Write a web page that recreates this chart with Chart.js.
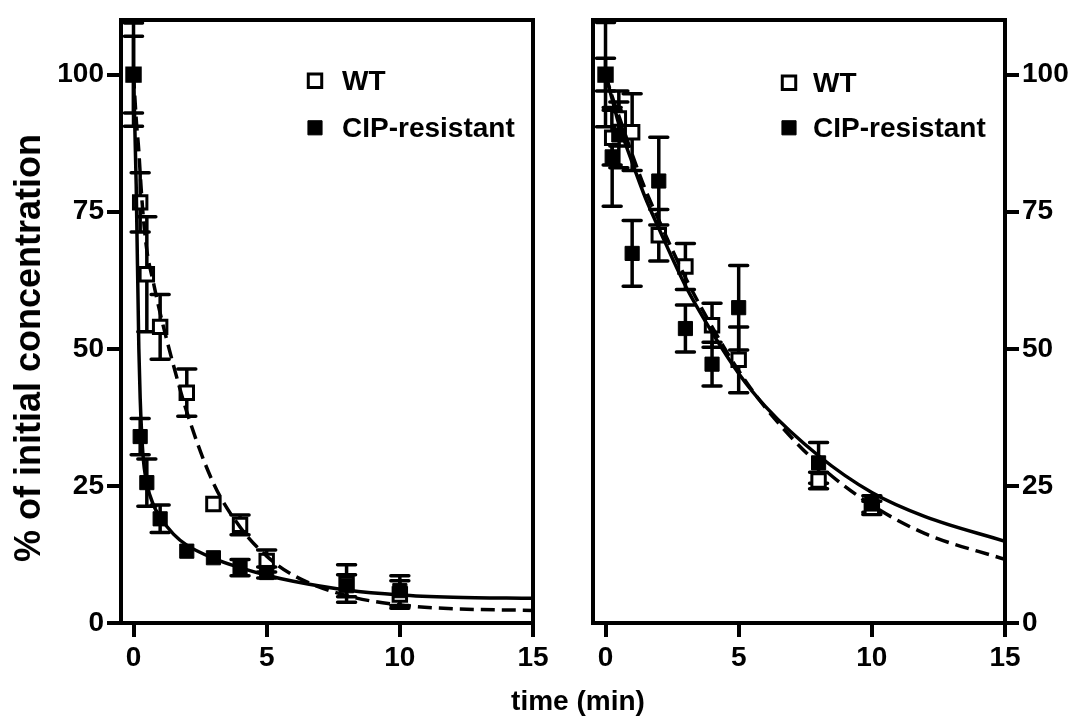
<!DOCTYPE html>
<html>
<head>
<meta charset="utf-8">
<script src="https://cdn.jsdelivr.net/npm/chart.js@4.4.1/dist/chart.umd.min.js"></script>
<style>
  html, body { margin: 0; padding: 0; background: #fff; }
  #wrap { position: relative; width: 1073px; height: 721px; overflow: hidden; }
  #leftPanel { position: absolute; left: 0; top: 0; }
  #rightPanel { position: absolute; left: 563px; top: 0; }
  #xTitle {
    position: absolute; left: 0; width: 1156px; top: 685px; line-height: 32px;
    text-align: center; font: bold 28px "Liberation Sans", Arial, sans-serif; color: #000;
  }
  #yTitle {
    position: absolute; left: 28px; top: 348px; white-space: nowrap; line-height: 40px;
    transform: translate(-50%, -50%) rotate(-90deg);
    font: bold 36px "Liberation Sans", Arial, sans-serif; color: #000;
  }
</style>
</head>
<body>
<div id="wrap">
  <canvas id="leftPanel" width="563" height="721"></canvas>
  <canvas id="rightPanel" width="510" height="721"></canvas>
  <div id="xTitle">time (min)</div>
  <div id="yTitle">% of initial concentration</div>
</div>
<script>
// --- data ---
const sampleTimes = [0, 0.25, 0.5, 1, 2, 3, 4, 5, 8, 10];

// left panel
const leftWT       = [100, 76.7, 63.6, 54, 42, 21.7, 17.9, 11.3, 7.2, 5.2];
const leftWTErr    = [9.4, 5.4, 10.5, 5.9, 4.3, 0, 1.8, 2, 3.4, 2.5];
const leftCIP      = [100, 34, 25.6, 19, 13.1, 11.9, 10.1, 9.2, 6.8, 5.9];
const leftCIPErr   = [7, 3.3, 4.3, 2.5, 0, 0, 1.5, 1, 2, 2.7];

// right panel
const rightWT      = [100, 88.5, 92, 89.5, 70.7, 65, 54.3, 48, 26, 21];
const rightWTErr   = [9.5, 5, 5, 7, 4.7, 4.2, 4, 6, 1.5, 1.2];
const rightCIP     = [100, 85, 89, 67.4, 80.6, 53.7, 47.2, 57.5, 29.2, 21.7];
const rightCIPErr  = [3, 9, 6, 6, 8, 4.3, 4, 7.7, 3.7, 1.5];

// fitted curves (traced)
const leftFitTime  = [0, 0.1, 0.2, 0.25, 0.35, 0.5, 0.75, 1, 1.5, 2, 3, 4, 5, 6, 8, 10, 12, 15];
const leftFitWT    = [100, 92, 86, 82, 75, 68, 62, 56.5, 47, 38.5, 25.5, 17.5, 12.2, 8.7, 5, 3.3, 2.6, 2.3];
const leftFitCIP   = [100, 80, 50, 41, 31, 25.5, 21.5, 19.3, 16.2, 14.2, 11.8, 10.1, 8.7, 7.6, 6, 5.1, 4.7, 4.5];

const rightFitTime = [0, 0.25, 0.5, 1, 1.5, 2, 3, 4, 5, 6, 8, 10, 12, 15];
const rightFitWT   = [100, 96, 92.5, 85.5, 79, 73.5, 63, 54, 46, 39.3, 28.9, 21.5, 16.3, 11.6];
const rightFitCIP  = [100, 95.5, 91, 84, 77.5, 72, 61.5, 53, 45.5, 39.5, 30.5, 23.8, 19.4, 14.9];

const xTickValues = [0, 5, 10, 15];
const yTickValues = [0, 25, 50, 75, 100];
const xMin = -0.47, xMax = 15;
const yMin = 0, yMax = 110;

// --- helpers ---
Chart.defaults.font.family = '"Liberation Sans", Arial, sans-serif';
Chart.defaults.font.weight = 'bold';
Chart.defaults.color = '#000';

const tickFont = { size: 28, weight: 'bold' };

const pairs = (xs, ys) => xs.map((x, i) => ({ x: x, y: ys[i] }));
const fixTicks = values => scale => { scale.ticks = values.map(v => ({ value: v })); };

function edgeAxis(axis, position, min, max) {
  return {
    axis: axis, position: position, min: min, max: max,
    ticks: { display: false },
    grid: { display: true, drawOnChartArea: false, drawTicks: false, lineWidth: 4, color: '#000' },
    border: { display: true, width: 4, color: '#000' },
    afterFit: s => { if (axis === 'x') s.height = 0; else s.width = 0; }
  };
}

function timeAxis() {
  return {
    type: 'linear', position: 'bottom', min: xMin, max: xMax,
    afterBuildTicks: fixTicks(xTickValues),
    afterFit: s => { s.height = 98; },
    ticks: { font: tickFont, padding: 4, maxRotation: 0 },
    grid: { drawOnChartArea: false, tickLength: 14, tickWidth: 4, lineWidth: 4, color: '#000' },
    border: { display: true, width: 4, color: '#000' }
  };
}

function concAxis(position, width) {
  return {
    type: 'linear', position: position, min: yMin, max: yMax,
    afterBuildTicks: fixTicks(yTickValues),
    afterFit: s => { s.width = width; },
    ticks: { font: tickFont, padding: 3 },
    grid: { drawOnChartArea: false, tickLength: 14, tickWidth: 4, lineWidth: 4, color: '#000' },
    border: { display: true, width: 4, color: '#000' }
  };
}

// higher "order" is painted first, so filled CIP squares sit on top of WT
function pointSet(label, ys, errs, open) {
  return {
    label: label,
    data: pairs(sampleTimes, ys),
    errors: errs,
    inLegend: true,
    showLine: false,
    pointStyle: 'rect',
    pointRadius: open ? 9.5 : 10,
    pointHoverRadius: open ? 9.5 : 10,
    pointBorderWidth: open ? 3 : 1,
    borderColor: '#000',
    backgroundColor: open ? '#fff' : '#000',
    order: open ? 2 : 1
  };
}

function fitSet(xs, ys, dashed) {
  return {
    label: '',
    data: pairs(xs, ys),
    showLine: true,
    pointRadius: 0,
    borderColor: '#000',
    borderWidth: 3.5,
    borderDash: dashed ? [14, 7] : [],
    cubicInterpolationMode: 'monotone',
    fill: false,
    order: 0
  };
}

const errorBars = {
  id: 'errorBars',
  beforeDatasetsDraw(chart) {
    const { ctx, chartArea: a, scales: { x, y } } = chart;
    ctx.save();
    ctx.beginPath();
    ctx.rect(a.left, a.top, a.right - a.left, a.bottom - a.top);
    ctx.clip();
    ctx.strokeStyle = '#000';
    ctx.lineWidth = 3.5;
    ctx.lineCap = 'round';
    chart.data.datasets.forEach(ds => {
      if (!ds.errors) return;
      ds.data.forEach((p, i) => {
        const e = ds.errors[i];
        if (!e) return;
        const px = x.getPixelForValue(p.x);
        const hi = y.getPixelForValue(p.y + e);
        const lo = y.getPixelForValue(p.y - e);
        ctx.beginPath();
        ctx.moveTo(px, hi); ctx.lineTo(px, lo);
        ctx.moveTo(px - 9, hi); ctx.lineTo(px + 9, hi);
        ctx.moveTo(px - 9, lo); ctx.lineTo(px + 9, lo);
        ctx.stroke();
      });
    });
    ctx.restore();
  }
};

const panelLegend = {
  id: 'panelLegend',
  afterDatasetsDraw(chart, args, opts) {
    const { ctx, chartArea: a } = chart;
    ctx.save();
    ctx.font = 'bold 28px "Liberation Sans", Arial, sans-serif';
    ctx.textBaseline = 'middle';
    ctx.textAlign = 'left';
    chart.data.datasets.filter(ds => ds.inLegend).forEach((ds, i) => {
      const mx = a.left + opts.markX;
      const my = a.top + opts.rows[i];
      ctx.fillStyle = ds.backgroundColor;
      ctx.strokeStyle = ds.borderColor;
      ctx.lineWidth = ds.pointBorderWidth;
      Chart.helpers.drawPoint(ctx, { pointStyle: 'rect', radius: ds.pointRadius, borderWidth: ds.pointBorderWidth, rotation: 0 }, mx, my);
      ctx.fillStyle = '#000';
      ctx.fillText(ds.label, a.left + opts.textX, my + 1);
    });
    ctx.restore();
  }
};

const baseOptions = {
  responsive: false,
  animation: false,
  devicePixelRatio: 1,
  events: [],
  plugins: { legend: { display: false }, tooltip: { enabled: false } }
};

new Chart(document.getElementById('leftPanel'), {
  type: 'scatter',
  data: {
    datasets: [
      pointSet('WT', leftWT, leftWTErr, true),
      pointSet('CIP-resistant', leftCIP, leftCIPErr, false),
      fitSet(leftFitTime, leftFitWT, true),
      fitSet(leftFitTime, leftFitCIP, false)
    ]
  },
  options: Object.assign({}, baseOptions, {
    layout: { padding: { top: 10, right: 30, left: 0, bottom: 0 } },
    scales: {
      x: timeAxis(),
      y: concAxis('left', 121),
      xTop: edgeAxis('x', 'top', xMin, xMax),
      yRight: edgeAxis('y', 'right', yMin, yMax)
    },
    plugins: Object.assign({}, baseOptions.plugins, {
      panelLegend: { markX: 194, textX: 221, rows: [61, 108] }
    })
  }),
  plugins: [errorBars, panelLegend]
});

new Chart(document.getElementById('rightPanel'), {
  type: 'scatter',
  data: {
    datasets: [
      pointSet('WT', rightWT, rightWTErr, true),
      pointSet('CIP-resistant', rightCIP, rightCIPErr, false),
      fitSet(rightFitTime, rightFitWT, true),
      fitSet(rightFitTime, rightFitCIP, false)
    ]
  },
  options: Object.assign({}, baseOptions, {
    layout: { padding: { top: 10, right: 0, left: 30, bottom: 0 } },
    scales: {
      x: timeAxis(),
      y: concAxis('right', 68),
      xTop: edgeAxis('x', 'top', xMin, xMax),
      yLeft: edgeAxis('y', 'left', yMin, yMax)
    },
    plugins: Object.assign({}, baseOptions.plugins, {
      panelLegend: { markX: 196, textX: 220, rows: [63, 108] }
    })
  }),
  plugins: [errorBars, panelLegend]
});
</script>
</body>
</html>
